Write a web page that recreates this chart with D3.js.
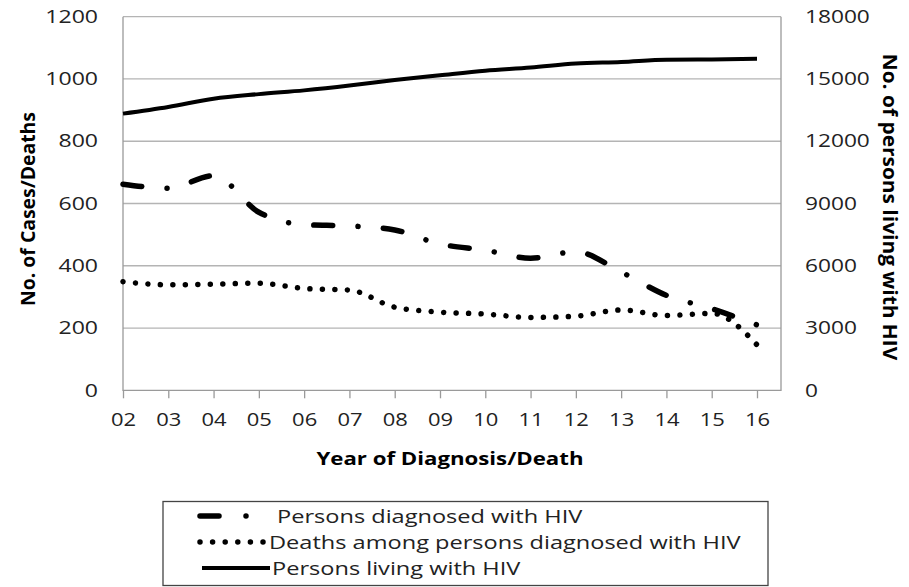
<!DOCTYPE html>
<html lang="en">
  <head>
    <meta charset="utf-8">
    <script src="https://cdnjs.cloudflare.com/ajax/libs/d3/7.8.5/d3.min.js"></script>
    <style>
      body { margin: 0; background: #fff; }
      text { font-family: "Open Sans", sans-serif; fill: #222; }
      .grid line { stroke: #b4b4b4; stroke-width: 1.3; }
      .frame { fill: none; stroke: #9a9a9a; stroke-width: 1.3; }
      .title { font-weight: bold; fill: #000; }
    </style>
  </head>
  <body>
  <script>
  var width = 909,
      height = 587;

  // data
  var years = [2, 3, 4, 5, 6, 7, 8, 9, 10, 11, 12, 13, 14, 15, 16];
  var yearLabels = ['02', '03', '04', '05', '06', '07', '08', '09', '10', '11', '12', '13', '14', '15', '16'];
  var diagnosed = [662, 649, 689, 572, 532, 528, 515, 470, 450, 424, 445, 380, 305, 262, 210];
  var deaths = [349, 339, 341, 344, 327, 322, 267, 251, 245, 234, 238, 258, 240, 247, 146];
  var living = [13330, 13650, 14050, 14270, 14450, 14680, 14950, 15180, 15400, 15550, 15750, 15820, 15930, 15940, 15970];
  var leftTicks = [0, 200, 400, 600, 800, 1000, 1200];
  var rightTicks = [0, 3000, 6000, 9000, 12000, 15000, 18000];
  var seriesNames = ['Persons diagnosed with HIV', 'Deaths among persons diagnosed with HIV', 'Persons living with HIV'];

  var svg = d3.select('body')
    .append('svg')
    .attr('width', width)
    .attr('height', height);

  var x = d3.scaleLinear().domain([2, 16.53]).range([123, 781]);
  var yL = d3.scaleLinear().domain([0, 1200]).range([390.3, 16.7]);
  var yR = d3.scaleLinear().domain([0, 18000]).range([390.3, 16.7]);

  // text in the reference is stretched sideways
  function stretch(sel, k) {
    sel.each(function () {
      var w = this.getComputedTextLength();
      this.setAttribute('textLength', w * k);
      this.setAttribute('lengthAdjust', 'spacingAndGlyphs');
    });
  }

  // gridlines
  svg.append('g')
    .attr('class', 'grid')
    .selectAll('line')
    .data(leftTicks.slice(1))
    .enter().append('line')
      .attr('x1', x.range()[0])
      .attr('x2', x.range()[1])
      .attr('y1', d => yL(d))
      .attr('y2', d => yL(d));

  svg.append('path')
    .attr('class', 'frame')
    .attr('d', 'M' + x.range()[0] + ',' + yL(1200) + 'V' + yL(0) + 'H' + x.range()[1] + 'V' + yL(1200));

  // x axis ticks and labels
  var xAxis = svg.append('g')
    .attr('transform', 'translate(0,' + yL(0) + ')')
    .call(d3.axisBottom(x).tickValues(years).tickSize(8).tickPadding(15)
      .tickFormat((d, i) => yearLabels[i]));
  xAxis.select('.domain').remove();
  xAxis.selectAll('line').attr('stroke', '#9a9a9a').attr('stroke-width', 1.3);
  xAxis.selectAll('text')
    .style('font-family', '"Open Sans", sans-serif')
    .attr('font-size', 18).attr('fill', '#222')
    .call(stretch, 1.22);

  var left = svg.append('g')
    .attr('transform', 'translate(' + x.range()[0] + ',0)')
    .call(d3.axisLeft(yL).tickValues(leftTicks).tickSize(0).tickPadding(25)
      .tickFormat(d3.format('d')));
  left.select('.domain').remove();
  left.selectAll('text')
    .style('font-family', '"Open Sans", sans-serif')
    .attr('font-size', 18).attr('fill', '#222')
    .call(stretch, 1.28);

  var right = svg.append('g')
    .attr('transform', 'translate(' + x.range()[1] + ',0)')
    .call(d3.axisRight(yR).tickValues(rightTicks).tickSize(0).tickPadding(24)
      .tickFormat(d3.format('d')));
  right.select('.domain').remove();
  right.selectAll('text')
    .style('font-family', '"Open Sans", sans-serif')
    .attr('font-size', 18).attr('fill', '#222')
    .call(stretch, 1.26);

  // axis titles
  svg.append('text')
    .attr('class', 'title')
    .attr('x', 450).attr('y', 465)
    .attr('text-anchor', 'middle')
    .attr('font-size', 18.5)
    .text('Year of Diagnosis/Death')
    .call(stretch, 1.2);

  svg.append('text')
    .attr('class', 'title')
    .attr('transform', 'translate(35,' + 209 + ') rotate(-90)')
    .attr('text-anchor', 'middle')
    .attr('font-size', 19)
    .text('No. of Cases/Deaths')
    .call(stretch, 1.02);

  svg.append('text')
    .attr('class', 'title')
    .attr('transform', 'translate(883,' + 207 + ') rotate(90)')
    .attr('text-anchor', 'middle')
    .attr('font-size', 19)
    .text('No. of persons living with HIV')
    .call(stretch, 1.1);

  // lines
  var lineL = d3.line().x((d, i) => x(years[i])).y(d => yL(d)).curve(d3.curveMonotoneX);
  var lineR = d3.line().x((d, i) => x(years[i])).y(d => yR(d)).curve(d3.curveMonotoneX);

  svg.append('path')
    .attr('d', lineR(living))
    .attr('fill', 'none').attr('stroke', '#000')
    .attr('stroke-width', 4);

  // dotted line: stretch the spacing a touch so the last dot lands on 16
  var deathPath = svg.append('path')
    .attr('d', lineL(deaths))
    .attr('fill', 'none').attr('stroke', '#000')
    .attr('stroke-width', 5.5)
    .attr('stroke-linecap', 'round');
  var dl = deathPath.node().getTotalLength() - 1;
  var gap = dl / Math.round(dl / 12.6);
  deathPath.attr('stroke-dasharray', '0.01,' + (gap - 0.01));

  // dash-dot line: fit the pattern so it ends on a dot at 16
  var diagPath = svg.append('path')
    .attr('d', lineL(diagnosed))
    .attr('fill', 'none').attr('stroke', '#000')
    .attr('stroke-width', 5.5)
    .attr('stroke-linecap', 'round');
  var gl = diagPath.node().getTotalLength() - 1;
  var n = Math.round((gl - 44.5) / 70);
  var k = gl / (n * 70 + 44.5);
  diagPath.attr('stroke-dasharray', [19 * k, 25.5 * k, 0.01, 25.5 * k - 0.01].join(','));

  // legend
  var legend = svg.append('g');
  legend.append('rect')
    .attr('x', 163).attr('y', 501.5)
    .attr('width', 605).attr('height', 84)
    .attr('fill', '#fff').attr('stroke', '#444').attr('stroke-width', 1.3);

  var rows = legend.selectAll('g.row')
    .data(seriesNames)
    .enter().append('g')
      .attr('class', 'row')
      .attr('transform', (d, i) => 'translate(0,' + (516 + i * 26) + ')');

  rows.append('line')
    .attr('x1', (d, i) => [200, 200, 202][i])
    .attr('x2', (d, i) => [248, 266, 270][i])
    .attr('stroke', '#000')
    .attr('stroke-width', (d, i) => i < 2 ? 5.5 : 4)
    .attr('stroke-linecap', (d, i) => i < 2 ? 'round' : 'butt')
    .attr('stroke-dasharray', (d, i) => ['19,27,0,40', '0,12.6', null][i]);

  rows.append('text')
    .attr('x', (d, i) => [277, 269, 272][i])
    .attr('dy', '0.35em')
    .attr('font-size', 19)
    .text(d => d)
    .call(stretch, 1.24);
  </script>
  </body>
</html>
